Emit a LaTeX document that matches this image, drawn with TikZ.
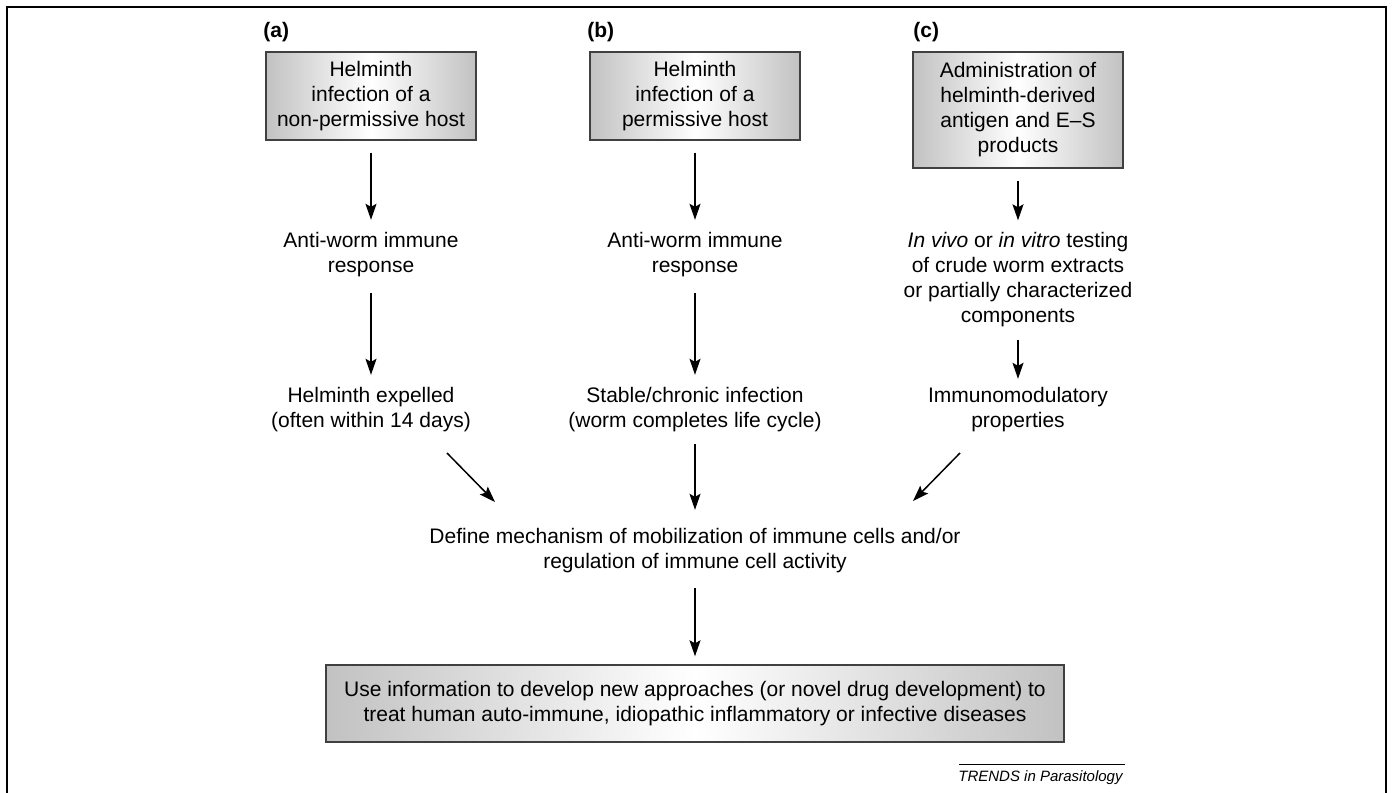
\documentclass[tikz,border=0pt]{standalone}
\usepackage{fontspec}
\setmainfont{Liberation Sans}
\usetikzlibrary{arrows.meta}
\begin{document}
\begin{tikzpicture}[x=0.5pt,y=-0.5pt,
	font=\fontsize{10.5}{12.5}\selectfont,
	box/.style={draw=black!75,line width=0.7pt,left color=black!24,right color=black!24,middle color=white,
		minimum width=105pt,minimum height=44pt,align=center,inner sep=0pt},
	txt/.style={align=center,inner sep=0pt},
	arr/.style={line width=0.75pt,-{Stealth[length=8pt,width=5.5pt,inset=1.5pt]},shorten <=6pt,shorten >=6pt},
	lbl/.style={font=\fontsize{10.5}{12.5}\selectfont\bfseries,anchor=west,inner sep=0pt}]
\useasboundingbox (0,0) rectangle (1394,793);
\draw[line width=1pt] (7,793) -- (7,7) -- (1386,7) -- (1386,793);
% column (a)
\node[lbl] (labA) at (263,32) {(a)};
\node[box] (boxA) at (371,96) {Helminth\\infection of a\\non-permissive host};
\node[txt] (respA) at (371,254.5) {Anti-worm immune\\response};
\node[txt] (outA) at (371,409.5) {Helminth expelled\\(often within 14 days)};
% column (b)
\node[lbl] (labB) at (587,32) {(b)};
\node[box] (boxB) at (695,96) {Helminth\\infection of a\\permissive host};
\node[txt] (respB) at (695,254.5) {Anti-worm immune\\response};
\node[txt] (outB) at (695,409.5) {Stable/chronic infection\\(worm completes life cycle)};
% column (c)
\node[lbl] (labC) at (913,32) {(c)};
\node[box,minimum height=58pt] (boxC) at (1018,110) {Administration of\\helminth-derived\\antigen and E--S\\products};
\node[txt] (testC) at (1018,280) {\textit{In vivo} or \textit{in vitro} testing\\of crude worm extracts\\or partially characterized\\components};
\node[txt] (outC) at (1018,409.5) {Immunomodulatory\\properties};
% bottom
\node[txt] (define) at (695,550.5) {Define mechanism of mobilization of immune cells and/or\\regulation of immune cell activity};
\node[box,minimum width=369pt,minimum height=38.5pt] (useBox) at (695,703.5) {Use information to develop new approaches (or novel drug development) to\\treat human auto-immune, idiopathic inflammatory or infective diseases};
\coordinate (fromA) at (447,453);
\coordinate (toA) at (495,502);
\coordinate (fromC) at (960,453);
\coordinate (toC) at (913,501);
\draw[arr] (boxA) -- (respA);
\draw[arr,shorten <=8pt] (respA) -- (outA);
\draw[arr] (boxB) -- (respB);
\draw[arr,shorten <=8pt] (respB) -- (outB);
\draw[arr] (boxC) -- (testC);
\draw[arr,shorten >=4pt] (testC) -- (outC);
\draw[arr,shorten <=0pt,shorten >=0pt] (fromA) -- (toA);
\draw[arr,shorten >=9pt] (outB) -- (define);
\draw[arr,shorten <=0pt,shorten >=0pt] (fromC) -- (toC);
\draw[arr,shorten <=7.5pt,shorten >=4pt] (define) -- (useBox);
% credit line
\node[inner sep=0pt,anchor=east,font=\fontsize{7.5}{9}\selectfont\itshape] (credit) at (1123,778) {TRENDS in Parasitology};
\draw[line width=0.5pt] (credit.north east) ++(2,-6) -- ++(-166,0);
\end{tikzpicture}
\end{document}
